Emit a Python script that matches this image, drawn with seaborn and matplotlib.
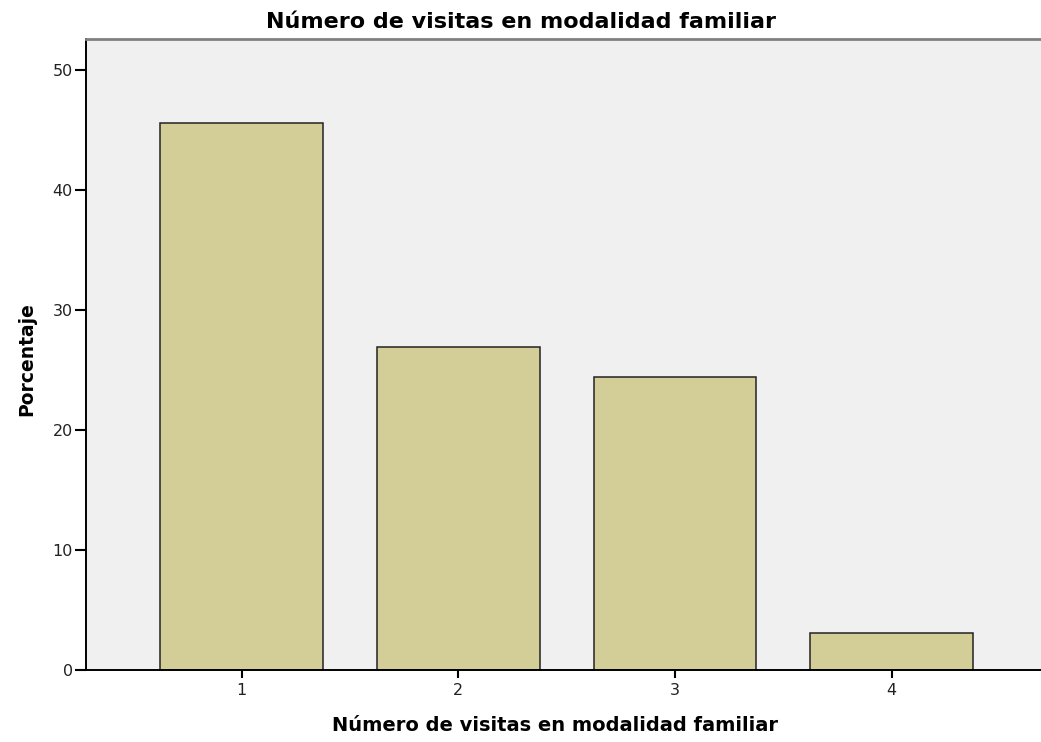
import matplotlib
matplotlib.use("Agg")
import matplotlib.pyplot as plt
import pandas as pd
import seaborn as sns

# Data
categorias = ["1", "2", "3", "4"]
porcentajes = [45.6, 26.9, 24.4, 3.1]

df = pd.DataFrame({"visitas": categorias, "porcentaje": porcentajes})

sns.set_style("white")
plt.rcParams["font.family"] = ["DejaVu Sans"]
plt.rcParams["text.color"] = "black"

fig = plt.figure(figsize=(10.41, 7.42), dpi=100)
ax = fig.add_axes([0.0826, 0.097, 0.9174, 0.8504])
ax.set_facecolor("#f0f0f0")

sns.barplot(data=df, x="visitas", y="porcentaje", color="#d3ce97",
            saturation=1, width=0.75, edgecolor="#222222", linewidth=1.1, ax=ax)

ax.set_xlim(-0.718, 3.689)
ax.set_ylim(0, 52.6)
ax.set_yticks([0, 10, 20, 30, 40, 50])

# title is centred on the figure, not on the axes
ax.set_title("Número de visitas en modalidad familiar", fontsize=16,
             fontweight="bold", pad=8, color="black", x=0.4555)
ax.set_xlabel("Número de visitas en modalidad familiar", fontsize=14,
              fontweight="bold", labelpad=13, color="black")
ax.xaxis.label.set_x(0.491)
ax.set_ylabel("Porcentaje", fontsize=13.5, fontweight="bold", labelpad=12,
              color="black")
ax.yaxis.label.set_y(0.493)

ax.tick_params(axis="both", direction="out", width=1.5, color="black",
               labelsize=11.5, labelcolor="#222222")
ax.tick_params(axis="y", left=True, length=8, pad=1.5)
ax.tick_params(axis="x", bottom=True, length=6, pad=3)

for side in ["left", "bottom"]:
    ax.spines[side].set_color("black")
    ax.spines[side].set_linewidth(1.4)
ax.spines["top"].set_color("#808080")
ax.spines["top"].set_linewidth(2)
ax.spines["right"].set_visible(False)

fig.savefig("out.png", dpi=100)
